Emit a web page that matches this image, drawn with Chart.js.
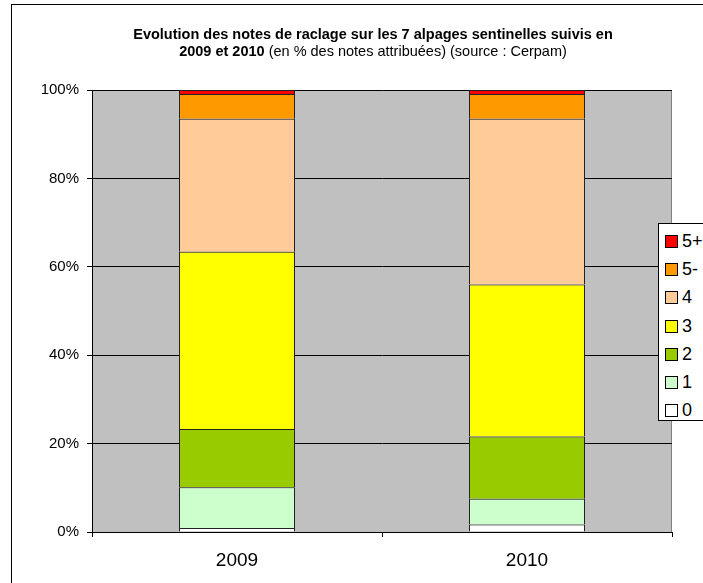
<!DOCTYPE html>
<html lang="fr">
<head>
    <meta charset="UTF-8">
    <title>Notes de raclage 2009-2010</title>
    <style>
        body { margin: 0; background: #fff; font-family: Arial, "Liberation Sans", sans-serif; }
        #wrap { position: relative; width: 703px; height: 583px; overflow: hidden; }
        #frame { position: absolute; left: 11px; top: 4px; width: 720px; height: 600px; border: 1px solid #000; box-sizing: border-box; }
        #title { position: absolute; left: 0; top: 26px; width: 746px; text-align: center; font-size: 14.5px; line-height: 17px; color: #000; }
        #chart { position: absolute; left: 0; top: 0; }
        #legend { position: absolute; left: 658px; top: 223px; width: 60px; height: 198px; background: #fff; border: 1px solid #000; box-sizing: border-box; padding-top: 3px; }
        .item { height: 28.3px; display: flex; align-items: center; font-size: 18px; }
        .item span.sw { width: 13px; height: 13px; margin: 0 4px 0 6px; border: 1px solid #000; box-sizing: border-box; }
    </style>
</head>
<body>
<div id="wrap">
    <div id="frame"></div>
    <canvas id="chart" width="703" height="583"></canvas>
    <div id="title"><b>Evolution des notes de raclage sur les 7 alpages sentinelles suivis en<br>2009 et 2010</b> (en % des notes attribuées) (source : Cerpam)</div>
    <div id="legend"></div>
</div>

<script src="https://cdn.jsdelivr.net/npm/chart.js"></script>
<script>
    // data (% of notes)
    const years = ['2009', '2010'];
    const noteLabels = ['0', '1', '2', '3', '4', '5-', '5+'];
    const note0 = [0.9, 1.7];
    const note1 = [9.2, 5.8];
    const note2 = [13.2, 14.1];
    const note3 = [40.1, 34.4];
    const note4 = [30.1, 37.5];
    const note5m = [5.6, 5.6];
    const note5p = [0.9, 0.9];
    const yTicks = [0, 20, 40, 60, 80, 100];

    const colors = ['#FFFFFF', '#CCFFCC', '#99CC00', '#FFFF00', '#FFCC99', '#FF9900', '#FF0000'];
    const series = [note0, note1, note2, note3, note4, note5m, note5p];

    const datasets = series.map((vals, i) => ({
        label: noteLabels[i],
        data: vals,
        backgroundColor: colors[i],
        borderColor: '#222',
        borderWidth: 1,
        borderSkipped: 'start',
        barPercentage: 0.4,
        categoryPercentage: 1
    }));

    // grey plot background + grey top/right border
    const plotArea = {
        id: 'plotArea',
        beforeDraw(chart) {
            const a = chart.chartArea, ctx = chart.ctx;
            ctx.save();
            ctx.fillStyle = '#C0C0C0';
            ctx.fillRect(a.left, a.top, a.right - a.left, a.bottom - a.top);
            ctx.strokeStyle = '#808080';
            ctx.lineWidth = 1;
            ctx.beginPath();
            ctx.moveTo(a.left, a.top + 0.5);
            ctx.lineTo(a.right - 0.5, a.top + 0.5);
            ctx.lineTo(a.right - 0.5, a.bottom);
            ctx.stroke();
            ctx.restore();
        }
    };

    const chart = new Chart(document.getElementById('chart'), {
        type: 'bar',
        data: { labels: years, datasets: datasets },
        plugins: [plotArea],
        options: {
            responsive: false,
            animation: false,
            layout: { padding: { top: 90, right: 31, left: 0, bottom: 0 } },
            plugins: { legend: { display: false }, title: { display: false }, tooltip: { enabled: false } },
            scales: {
                x: {
                    stacked: true,
                    afterFit(scale) { scale.height = 51; },
                    grid: { display: true, drawOnChartArea: false, drawTicks: true, tickLength: 5, color: '#000', offset: true },
                    border: { display: true, color: '#000', width: 1 },
                    ticks: { color: '#000', padding: 12, font: { family: 'Arial', size: 19 } }
                },
                y: {
                    stacked: true,
                    min: 0,
                    max: 100,
                    afterFit(scale) { scale.width = 92; },
                    afterBuildTicks(scale) { scale.ticks = yTicks.map(v => ({ value: v })); },
                    grid: { color: '#000', tickLength: 5, drawTicks: true },
                    border: { display: true, color: '#000', width: 1 },
                    ticks: { color: '#000', padding: 8, font: { family: 'Arial', size: 15 }, callback: v => v + '%' }
                }
            }
        }
    });

    // legend, reversed like the original
    const legend = document.getElementById('legend');
    for (let i = noteLabels.length - 1; i >= 0; i--) {
        const row = document.createElement('div');
        row.className = 'item';
        row.innerHTML = '<span class="sw" style="background:' + colors[i] + '"></span>' + noteLabels[i];
        legend.appendChild(row);
    }
</script>
</body>
</html>
